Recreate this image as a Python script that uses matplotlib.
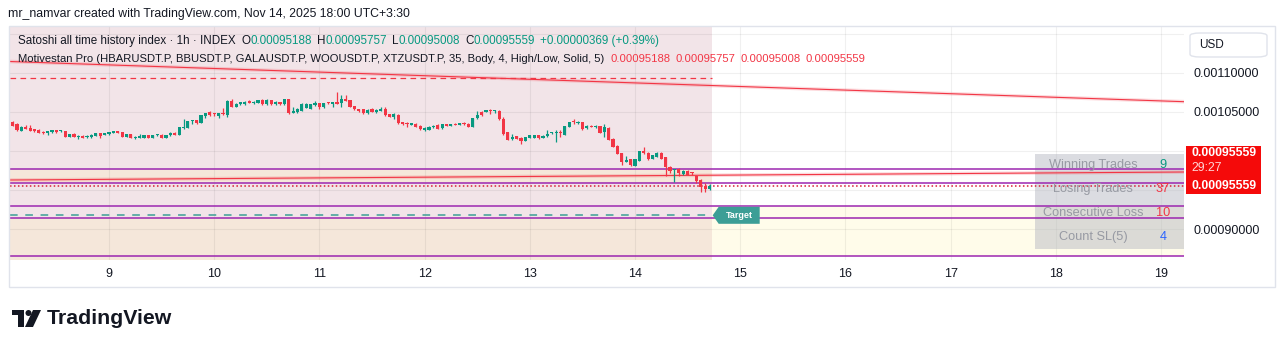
import matplotlib

matplotlib.use("Agg")
import matplotlib.dates as mdates
import matplotlib.pyplot as plt
import numpy as np
import pandas as pd
from matplotlib.patches import Circle, FancyBboxPatch, Polygon, Rectangle
from matplotlib.transforms import IdentityTransform

plt.rcParams["font.family"] = ["Liberation Sans", "DejaVu Sans"]

W, H, DPI = 1281, 348, 100
SAT = 1e-8  # prices below are stored in 1e-8 units

# hourly candles (Nov 8 01:00 .. Nov 14 17:00)
first_bar = "2025-11-08 01:00"
opens = [
    103970, 103760, 103420, 102610, 103120, 102950, 102780, 102650, 102480, 102350,
    102480, 102560, 102520, 102560, 101840, 102220, 101800, 101970, 101750, 101750,
    101970, 102270, 102090, 102140, 102350, 102440, 102390, 101840, 102180, 101670,
    101710, 101710, 102010, 101710, 102050, 102050, 101710, 102010, 102350, 102050,
    102950, 102990, 103850, 103930, 103630, 104530, 104960, 104790, 104490, 104870,
    104620, 106450, 105680, 106070, 106030, 106370, 106110, 106200, 106540, 105980,
    106500, 105980, 106280, 105980, 106620, 104910, 104960, 105170, 105560, 105430,
    105850, 106150, 105680, 106240, 106070, 106150, 106110, 106670, 106500, 105730,
    105340, 105340, 104830, 105340, 104960, 105170, 105390, 104700, 104400, 104620,
    103630, 103630, 103380, 103500, 103250, 102650, 102690, 103080, 103290, 102910,
    103420, 103210, 103460, 103380, 103590, 103500, 103120, 104190, 105000, 105040,
    105210, 105130, 105130, 104100, 102390, 101500, 101880, 101670, 101320, 101710,
    101710, 102010, 101710, 101920, 102310, 102310, 102480, 102050, 103120, 103850,
    103550, 103720, 102910, 103210, 103030, 103160, 102440, 102990, 101540, 100680,
    99700, 98630, 98930, 98120, 98760, 100000, 99790, 99020, 99270, 99740,
    99230, 97950, 97560, 97730, 97050, 97390, 97260, 96840, 96280, 95560,
    95188,
]
highs = [
    104060, 103850, 103550, 103210, 103380, 103330, 102860, 102780, 102560, 102440,
    102690, 102690, 102690, 102610, 102180, 102310, 102050, 102050, 102050, 102140,
    102350, 102350, 102270, 102480, 102520, 102520, 102440, 102180, 102220, 101880,
    102140, 102050, 102050, 102050, 102220, 102140, 102050, 102480, 102480, 103120,
    104100, 103890, 103970, 104020, 104660, 104910, 105090, 104870, 104910, 105470,
    106500, 106620, 106150, 106280, 106410, 106540, 106370, 106580, 106620, 106620,
    106540, 106370, 106330, 106670, 106670, 105600, 105470, 106110, 106110, 106070,
    106370, 106200, 106200, 106330, 106200, 107520, 107180, 107180, 106540, 105770,
    105430, 105390, 105340, 105510, 105340, 105600, 105680, 104790, 104830, 104700,
    103760, 103760, 103590, 103550, 103330, 103080, 103210, 103290, 103420, 103500,
    103500, 103460, 103590, 103550, 103680, 103550, 104270, 105090, 105090, 105210,
    105390, 105260, 105210, 104360, 102480, 102140, 101970, 101750, 101840, 102050,
    102090, 102090, 102050, 102690, 102480, 102690, 102690, 103250, 103760, 104100,
    103800, 103760, 103290, 103290, 103330, 103250, 103460, 103080, 101620, 100770,
    99790, 99400, 99020, 99020, 100040, 100560, 99870, 99530, 99910, 99830,
    99270, 98080, 97730, 97820, 97520, 97560, 97350, 96920, 96370, 95850,
    95757,
]
lows = [
    103460, 103210, 102560, 102520, 102820, 102560, 102480, 102310, 102220, 102050,
    102350, 102350, 102480, 101800, 101800, 101750, 101540, 101670, 101710, 101710,
    101920, 101710, 102050, 102090, 102310, 102270, 101800, 101800, 101670, 101540,
    101670, 101670, 101670, 101670, 101970, 101670, 101670, 101920, 102010, 102010,
    102820, 102910, 103500, 103500, 103550, 104230, 104530, 104530, 104270, 104620,
    104400, 105600, 105640, 105940, 105940, 106110, 106030, 106110, 105940, 105900,
    105940, 105900, 105940, 105900, 104740, 104830, 104910, 105130, 105510, 105390,
    105810, 105430, 105560, 106070, 105680, 106030, 105680, 106410, 105640, 105300,
    105000, 104790, 104790, 104960, 104910, 105130, 104530, 104360, 104060, 103420,
    103380, 103030, 103290, 103030, 102690, 102610, 102650, 102990, 102820, 102860,
    103160, 103160, 103290, 103290, 103380, 103080, 103080, 104150, 104530, 104960,
    104790, 104830, 103970, 102090, 101370, 101450, 101540, 100900, 101280, 101620,
    101670, 101580, 101670, 101840, 102180, 101110, 101840, 102010, 103080, 103460,
    103500, 102740, 102820, 103030, 102950, 102270, 101840, 101370, 100510, 99570,
    98250, 98590, 98120, 98080, 98720, 99660, 98890, 98930, 99230, 98970,
    96790, 97140, 96070, 96840, 96960, 96880, 96920, 95940, 94740, 94780,
    95008,
]
closes = [
    103550, 103250, 102690, 103080, 102860, 102610, 102520, 102350, 102270, 102390,
    102560, 102480, 102610, 101840, 102140, 101840, 101880, 101710, 101970, 102010,
    102270, 101920, 102180, 102390, 102440, 102350, 101840, 102140, 101710, 101750,
    101800, 102010, 101710, 102010, 102140, 101710, 102010, 102350, 102090, 103030,
    103030, 103800, 103930, 103550, 104570, 104830, 104570, 104700, 104830, 104700,
    106410, 105680, 106070, 106150, 106330, 106200, 106330, 106500, 105980, 106540,
    105980, 106330, 105980, 106620, 104830, 105130, 105390, 106030, 106030, 105980,
    106150, 105680, 106150, 106150, 106150, 106070, 106670, 106450, 105680, 105340,
    105170, 104830, 105300, 105040, 105300, 105430, 104570, 104400, 104700, 103550,
    103500, 103460, 103500, 103120, 102780, 102990, 103080, 103210, 102860, 103420,
    103250, 103420, 103330, 103460, 103460, 103120, 104190, 104660, 104570, 105170,
    105090, 105210, 104060, 102180, 101410, 101840, 101580, 101240, 101750, 102010,
    102010, 101710, 101970, 102140, 102390, 102390, 102270, 103160, 103720, 103680,
    103760, 102820, 103160, 103080, 103250, 102350, 103030, 101410, 100560, 99620,
    98630, 98720, 98160, 98930, 99960, 99700, 98930, 99440, 99790, 99020,
    97900, 97480, 97650, 97140, 97430, 96920, 97180, 96200, 95340, 95190,
    95559,
]

# indicator levels
stop_level = 109360
target_level = 91756
box_levels = [97654, 95859, 92885, 91372, 86500]
upper_trend = [111474, 106321]
lower_trend = [96282, 97308]

view_start = "2025-11-08 01:25"
view_end = "2025-11-19 05:15"
zone_end = "2025-11-14 17:30"
price_min, price_max = 86026, 115897

grid_prices = [90000, 95000, 100000, 105000, 110000, 115000]
labelled_prices = [90000, 105000, 110000]
tick_days = list(range(9, 20))

stats_labels = ["Winning Trades", "Losing Trades", "Consecutive Loss", "Count SL(5)"]
stats_values = [9, 37, 10, 4]
countdown = "29:27"

TEXT = "#131722"
GREEN = "#089981"
RED = "#f23645"
PURPLE = "#9c27b0"
TEAL = "#3c9e96"


def fx(x):
    return x / W


def fy(y):
    return 1 - y / H


def draw_runs(fig, x, y, runs, size):
    renderer = fig.canvas.get_renderer()
    for text, color, gap in runs:
        t = fig.text(fx(x), fy(y), text, color=color, fontsize=size,
                     ha="left", va="center")
        x += t.get_window_extent(renderer).width + gap


def sat(values):
    return np.asarray(values, dtype=float) * SAT


fig = plt.figure(figsize=(W / DPI, H / DPI), dpi=DPI)
ax = fig.add_axes([fx(10), fy(260), 1174 / W, 233 / H])

x_start = mdates.date2num(pd.Timestamp(view_start))
x_end = mdates.date2num(pd.Timestamp(view_end))
x_zone = mdates.date2num(pd.Timestamp(zone_end))
ax.set_xlim(x_start, x_end)
ax.set_ylim(price_min * SAT, price_max * SAT)

# background zones
b = sat(box_levels)
ax.add_patch(Rectangle((x_start, b[3]), x_zone - x_start, price_max * SAT - b[3],
                       fc="#f2e4e8", ec="none", zorder=0.2))
ax.add_patch(Rectangle((x_start, b[1]), x_zone - x_start, b[0] - b[1],
                       fc="#f5e7da", ec="none", zorder=0.25))
ax.add_patch(Rectangle((x_start, price_min * SAT), x_zone - x_start,
                       b[3] - price_min * SAT, fc="#f5e7da", ec="none", zorder=0.2))
ax.add_patch(Rectangle((x_zone, b[4]), x_end - x_zone, b[2] - b[4],
                       fc="#fffcea", ec="none", zorder=0.2))

ax.set_axisbelow(True)
ax.grid(True, color="#000000", alpha=0.06, linewidth=0.8)

# stats table sits behind the drawn lines
ax.add_patch(Rectangle((1035, H - 249), 149, 95, transform=IdentityTransform(),
                       fc="#b8bac4", alpha=0.5, ec="none", zorder=1.5))

# levels
for lvl in b:
    ax.axhline(lvl, color=PURPLE, lw=1.1, zorder=2)
ax.plot([x_start, x_zone], [stop_level * SAT] * 2, color=RED, lw=0.9,
        dashes=(4.5, 3.5), zorder=2)
ax.plot([x_start, x_zone - 0.01], [target_level * SAT] * 2, color=TEAL, lw=1.1,
        dashes=(5, 5), zorder=2)
for trend in (upper_trend, lower_trend):
    ax.plot([x_start, x_end], sat(trend), color=RED, lw=2.6, alpha=0.18, zorder=2)
    ax.plot([x_start, x_end], sat(trend), color=RED, lw=0.8, zorder=2.1)
ax.axhline(closes[-1] * SAT, color="#d81e35", lw=1.1, dashes=(1, 1.6), zorder=2.2)

# candles
times = pd.date_range(first_bar, periods=len(opens), freq="h")
xs = mdates.date2num(times)
o, hi, lo, c = sat(opens), sat(highs), sat(lows), sat(closes)
colors = np.where(c >= o, GREEN, RED)
body_h = np.maximum(np.abs(c - o), 1.6e-6)
ax.vlines(xs, lo, hi, colors=colors, lw=0.9, zorder=3)
ax.bar(xs, body_h, width=0.72 / 24, bottom=np.minimum(o, c), color=colors,
       linewidth=0, zorder=4)

# axes ticks
for side in ("top", "bottom", "left", "right"):
    ax.spines[side].set_visible(False)
ax.yaxis.tick_right()
ax.set_yticks(sat(grid_prices))
ax.set_yticklabels([f"{p * SAT:.8f}" if p in labelled_prices else "" for p in grid_prices])
ax.tick_params(axis="y", length=0, pad=7.2, labelsize=9, labelcolor=TEXT)
ax.set_xticks([mdates.date2num(pd.Timestamp(2025, 11, d)) for d in tick_days])
ax.set_xticklabels([str(d) for d in tick_days])
ax.tick_params(axis="x", length=0, pad=5.5, labelsize=9, labelcolor=TEXT)

# target tag
fig.canvas.draw()
tx, ty = ax.transData.transform((x_zone, target_level * SAT))
tx += 1
tag = [(tx, ty), (tx + 6, ty + 8.5), (tx + 47, ty + 8.5), (tx + 47, ty - 8.5),
       (tx + 6, ty - 8.5)]
fig.add_artist(Polygon(tag, closed=True, transform=IdentityTransform(),
                       fc=TEAL, ec="none", zorder=5))
fig.text((tx + 27) / W, ty / H, "Target", color="white", fontsize=6.5,
         fontweight="bold", ha="center", va="center", zorder=6)

# stats table text
for i, (label, value) in enumerate(zip(stats_labels, stats_values)):
    row_y = 165 + i * 24
    fig.text(fx(1093), fy(row_y), label, color="#979aa3", fontsize=9.2,
             ha="center", va="center", zorder=6)
    value_color = [GREEN, RED, RED, "#2962ff"][i]
    fig.text(fx(1163), fy(row_y), str(value), color=value_color, fontsize=9.2,
             ha="center", va="center", zorder=6)

# price scale labels
fig.add_artist(Rectangle((fx(1186), fy(194)), 75 / W, 48 / H,
                         transform=fig.transFigure, fc="#f50a0a", ec="none", zorder=5))
last = f"{closes[-1] * SAT:.8f}"
fig.text(fx(1191), fy(153), last, color="white", fontsize=8.8, fontweight="bold",
         ha="left", va="center", zorder=6)
fig.text(fx(1191), fy(168), countdown, color="#ffd6d6", fontsize=8.8,
         ha="left", va="center", zorder=6)
fig.text(fx(1191), fy(186), last, color="white", fontsize=8.8, fontweight="bold",
         ha="left", va="center", zorder=6)
fig.add_artist(FancyBboxPatch((fx(1190), fy(57)), 77 / W, 24 / H,
                              boxstyle="round,pad=0,rounding_size=0.008",
                              transform=fig.transFigure, fc="white", ec="#e0e3eb",
                              lw=1, zorder=5))
fig.text(fx(1199), fy(45), "USD", color=TEXT, fontsize=8.5, ha="left",
         va="center", zorder=6)

# outer frame
fig.add_artist(Rectangle((fx(9), fy(287)), 1266 / W, 261 / H,
                         transform=fig.transFigure, fc="none", ec="#e0e3eb",
                         lw=1, zorder=4))

# header and legend lines
fig.text(fx(8), fy(14), "mr_namvar created with TradingView.com, Nov 14, 2025 18:00 UTC+3:30",
         color=TEXT, fontsize=8.8, ha="left", va="center")
change = closes[-1] - closes[-2]
pct = change / closes[-2] * 100
draw_runs(fig, 18, 41, [
    ("Satoshi all time history index · 1h · INDEX", TEXT, 6),
    ("O", TEXT, 0), (f"{opens[-1] * SAT:.8f}", GREEN, 5),
    ("H", TEXT, 0), (f"{highs[-1] * SAT:.8f}", GREEN, 5),
    ("L", TEXT, 0), (f"{lows[-1] * SAT:.8f}", GREEN, 5),
    ("C", TEXT, 0), (f"{closes[-1] * SAT:.8f}", GREEN, 5),
    (f"+{change * SAT:.8f} (+{pct:.2f}%)", GREEN, 0),
], 8.4)
draw_runs(fig, 18, 59, [
    ("Motivestan Pro (HBARUSDT.P, BBUSDT.P, GALAUSDT.P, WOOUSDT.P, XTZUSDT.P, 35, "
     "Body, 4, High/Low, Solid, 5)", TEXT, 6),
    (f"{opens[-1] * SAT:.8f}", RED, 5), (f"{highs[-1] * SAT:.8f}", RED, 5),
    (f"{lows[-1] * SAT:.8f}", RED, 5), (f"{closes[-1] * SAT:.8f}", RED, 0),
], 8.1)

# TradingView logo
for rect in [(12, 310, 12, 5), (18, 310, 6, 17)]:
    x0, y0, w, h = rect
    fig.add_artist(Rectangle((fx(x0), fy(y0 + h)), w / W, h / H,
                             transform=fig.transFigure, fc=TEXT, ec="none"))
fig.add_artist(Circle((28.5, H - 313), 3, transform=IdentityTransform(),
                      fc=TEXT, ec="none"))
fig.add_artist(Polygon([(33, H - 310), (41, H - 310), (33, H - 327), (25, H - 327)],
                       closed=True, transform=IdentityTransform(), fc=TEXT, ec="none"))
fig.text(fx(47), fy(318), "TradingView", color=TEXT, fontsize=15.3,
         fontweight="bold", ha="left", va="center")

fig.savefig("out.png", dpi=DPI)
